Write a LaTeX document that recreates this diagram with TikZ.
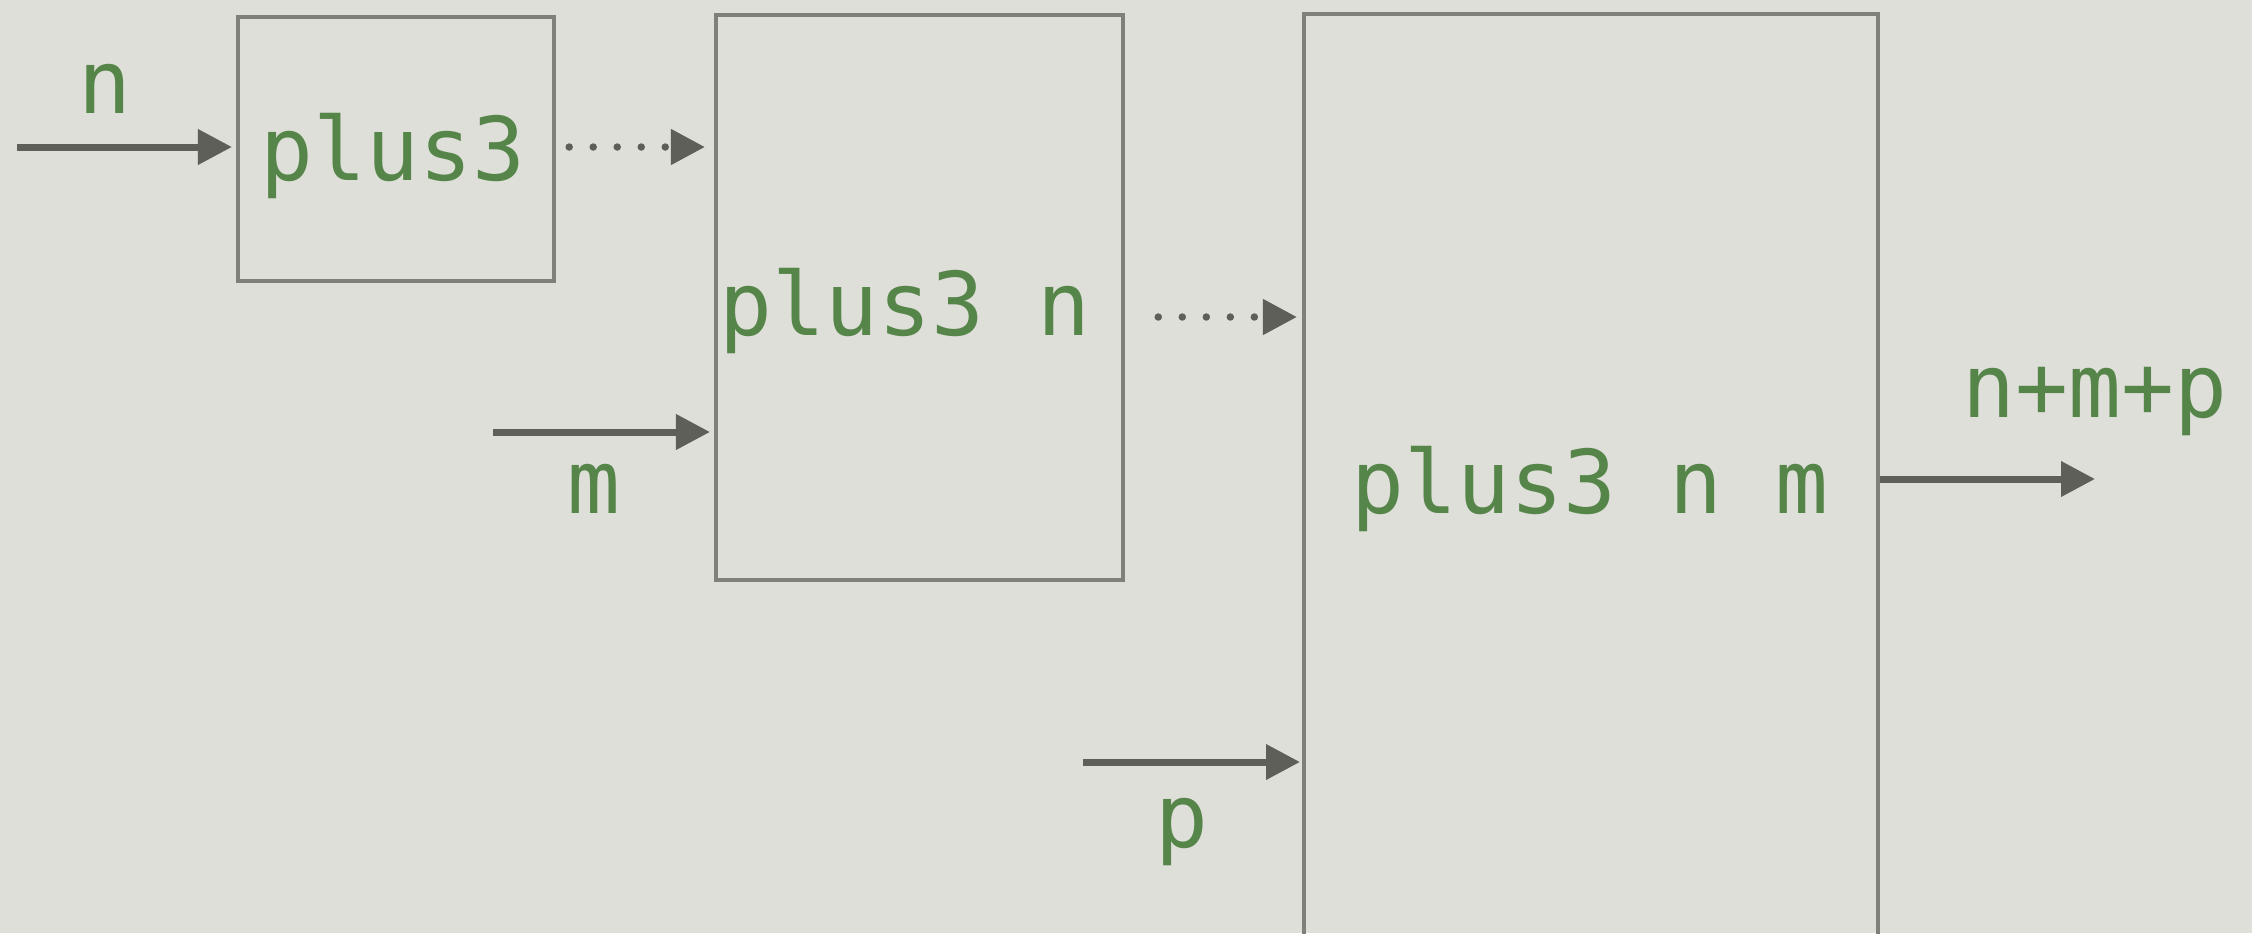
\documentclass[tikz,border=0pt]{standalone}
\usepackage{fontspec}
\setmonofont{DejaVu Sans Mono}
\usetikzlibrary{arrows.meta}
\definecolor{paper}{RGB}{223,223,218}
\definecolor{frame}{RGB}{128,128,122}
\definecolor{wire}{RGB}{95,95,90}
\definecolor{code}{RGB}{85,133,72}
\tikzset{
  box/.style={draw=frame, line width=0.04cm, rectangle, inner sep=0pt, anchor=north west},
  code/.style={text=code, font=\ttfamily\fontsize{25}{30}\selectfont, inner sep=0pt, anchor=base},
  wirearrow/.style={draw=wire, line width=0.07cm, -{Triangle[length=0.34cm, width=0.34cm]}},
  partial/.style={draw=wire, line width=0.075cm, line cap=round, dash pattern=on 0pt off 0.24cm,
    -{Triangle[length=0.34cm, width=0.34cm]}}
}
\begin{document}
\begin{tikzpicture}[x=0.01cm, y=-0.01cm]
\useasboundingbox (0,0) rectangle (2252,933);
\clip (0,0) rectangle (2252,933);
\fill[paper] (0,0) rectangle (2252,933);

% the three stages of the curried function
\node[box, minimum width=3.16cm, minimum height=2.64cm] (b1) at (236,15) {};
\node[box, minimum width=4.07cm, minimum height=5.655cm] (b2) at (714,12.5) {};
\node[box, minimum width=5.74cm, minimum height=9.6cm] (b3) at (1302,12) {};

\node[code] (t1) at (393,180) {plus3};
\node[code] (t2) at (905,335) {plus3 n};
\node[code] (t3) at (1590,513) {plus3 n m};

% argument inputs
\coordinate (cn) at (17,147);
\coordinate (cm) at (493,432);
\coordinate (cp) at (1083,762);
\coordinate (cout) at (2095,479);

\node[code] (ln) at (105,113) {n};
\node[code] (lm) at (594,513) {m};
\node[code] (lp) at (1182,847) {p};
\node[code] (lout) at (2095,417) {n+m+p};

\draw[wirearrow, shorten >=0.04cm] (cn) -- (b1.west |- cn);
\draw[wirearrow, shorten >=0.04cm] (cm) -- (b2.west |- cm);
\draw[wirearrow, shorten >=0.02cm] (cp) -- (b3.west |- cp);
\draw[wirearrow] (b3.east |- cout) -- (cout);

% partially applied results passed on
\draw[partial, shorten <=0.13cm, shorten >=0.09cm] (b1.east |- cn) -- (b2.west |- cn);
\draw[partial, shorten <=0.33cm, shorten >=0.05cm] (b2.east |- 0,317) -- (b3.west |- 0,317);
\end{tikzpicture}
\end{document}
